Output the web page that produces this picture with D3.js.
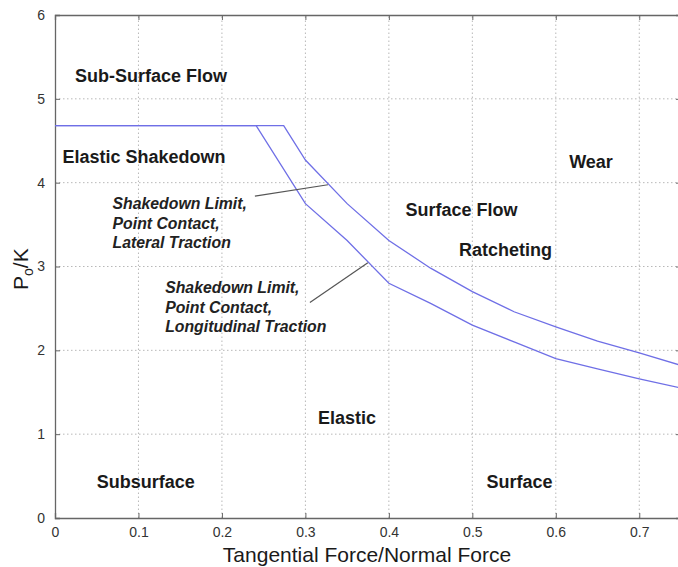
<!DOCTYPE html>
<html><head><meta charset="utf-8">
<script src="https://cdn.jsdelivr.net/npm/d3@7"></script>
<style>body{margin:0;background:#fff}svg{display:block}text{font-family:Arial,"Liberation Sans",sans-serif}</style>
</head><body>
<svg id="c" width="678" height="567"></svg>
<script>
const xTicks = [0, 0.1, 0.2, 0.3, 0.4, 0.5, 0.6, 0.7];
const yTicks = [0, 1, 2, 3, 4, 5, 6];
const lateralX = [0, 0.274, 0.30, 0.35, 0.40, 0.45, 0.50, 0.55, 0.60, 0.65, 0.70, 0.75];
const lateralY = [4.68, 4.68, 4.27, 3.75, 3.31, 2.98, 2.70, 2.46, 2.28, 2.11, 1.97, 1.82];
const longX = [0, 0.241, 0.30, 0.35, 0.40, 0.45, 0.50, 0.55, 0.60, 0.65, 0.70, 0.75];
const longY = [4.68, 4.68, 3.75, 3.31, 2.80, 2.56, 2.30, 2.10, 1.90, 1.78, 1.66, 1.55];
const regionLabels = ["Sub-Surface Flow", "Elastic Shakedown", "Wear", "Surface Flow", "Ratcheting", "Elastic", "Subsurface", "Surface"];
const regionX = [0.024, 0.009, 0.616, 0.42, 0.484, 0.315, 0.05, 0.517];
const regionY = [5.2, 4.23, 4.18, 3.6, 3.12, 1.12, 0.36, 0.36];
const noteLateral = ["Shakedown Limit,", "Point Contact,", "Lateral Traction"];
const noteLong = ["Shakedown Limit,", "Point Contact,", "Longitudinal Traction"];
const noteLateralPos = [0.069, 3.68];
const noteLongPos = [0.132, 2.68];
const leaderLateral = [[0.2395, 3.84], [0.327, 3.975]];
const leaderLong = [[0.3054, 2.57], [0.3748, 3.045]];

const svg = d3.select("#c");
const x = d3.scaleLinear().domain([0, 0.75]).range([55, 681]);
const y = d3.scaleLinear().domain([0, 6]).range([518, 15]);
const axisCol = "#666";

// grid
const g = svg.append("g");
g.selectAll(".gx").data(xTicks.slice(1)).join("line")
  .attr("x1", d => x(d)).attr("x2", d => x(d)).attr("y1", y(0)).attr("y2", y(6))
  .attr("stroke", "#b8b8b8").attr("stroke-dasharray", "1.5,2.5").attr("stroke-width", 1);
g.selectAll(".gy").data(yTicks.slice(1, -1)).join("line")
  .attr("x1", x(0)).attr("x2", x(0.75)).attr("y1", d => y(d)).attr("y2", d => y(d))
  .attr("stroke", "#b8b8b8").attr("stroke-dasharray", "1.5,2.5").attr("stroke-width", 1);

// axes
const xAxis = svg.append("g").attr("transform", `translate(0,${y(0)})`)
  .call(d3.axisBottom(x).tickValues(xTicks).tickSize(-5).tickPadding(9).tickFormat(d3.format("")));
const xAxisTop = svg.append("g").attr("transform", `translate(0,${y(6)})`)
  .call(d3.axisTop(x).tickValues(xTicks).tickSize(-5).tickFormat(""));
const yAxis = svg.append("g").attr("transform", `translate(${x(0)},0)`)
  .call(d3.axisLeft(y).tickValues(yTicks).tickSize(-5).tickPadding(10).tickFormat(d3.format("d")));
const yAxisR = svg.append("g").attr("transform", `translate(${x(0.75)},0)`)
  .call(d3.axisRight(y).tickValues(yTicks).tickSize(-5).tickFormat(""));
[xAxis, xAxisTop, yAxis, yAxisR].forEach(a => {
  a.select(".domain").attr("stroke", axisCol).attr("stroke-width", 1.3);
  a.selectAll(".tick line").attr("stroke", axisCol);
  a.selectAll("text").attr("fill", "#333").attr("font-size", 14).attr("font-family", "Arial, 'Liberation Sans', sans-serif");
});

// curves
const line = d3.line().x(d => x(d[0])).y(d => y(d[1]));
[[lateralX, lateralY], [longX, longY]].forEach(([xs, ys]) => {
  svg.append("path").datum(xs.map((v, i) => [v, ys[i]]))
    .attr("d", line).attr("fill", "none").attr("stroke", "#6f6fe6").attr("stroke-width", 1.3);
});

// leader lines
[leaderLateral, leaderLong].forEach(l => {
  svg.append("path").datum(l).attr("d", line).attr("fill", "none")
    .attr("stroke", "#555").attr("stroke-width", 1.2);
});

// region labels
svg.selectAll(".rl").data(regionLabels).join("text")
  .attr("x", (d, i) => x(regionX[i])).attr("y", (d, i) => y(regionY[i]))
  .attr("font-size", 18).attr("font-weight", "bold").attr("fill", "#1a1a1a").text(d => d);

// notes
function note(lines, pos) {
  const t = svg.append("text").attr("font-size", 15.8).attr("font-weight", "bold")
    .attr("font-style", "italic").attr("fill", "#222");
  t.selectAll("tspan").data(lines).join("tspan")
    .attr("x", x(pos[0])).attr("y", (d, i) => y(pos[1]) + i * 19.5).text(d => d);
}
note(noteLateral, noteLateralPos);
note(noteLong, noteLongPos);

// axis titles
svg.append("text").attr("x", 367).attr("y", 562).attr("text-anchor", "middle")
  .attr("font-size", 21).attr("fill", "#1a1a1a").text("Tangential Force/Normal Force");
const yl = svg.append("text").attr("transform", "translate(28,290) rotate(-90)")
  .attr("font-size", 21).attr("fill", "#1a1a1a");
yl.append("tspan").text("P");
yl.append("tspan").attr("font-size", 14).attr("dy", 5).text("o");
yl.append("tspan").attr("dy", -5).text("/K");
</script>
</body></html>
